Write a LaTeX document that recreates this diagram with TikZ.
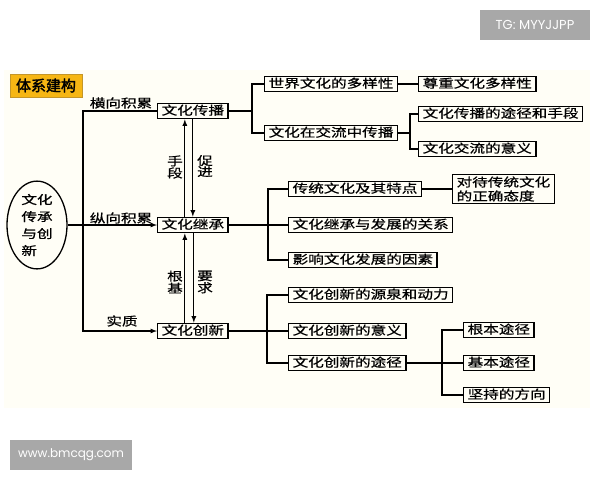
\documentclass[tikz,border=0pt]{standalone}
\usepackage{fontspec}
\newfontfamily\cjk{Noto Sans CJK SC}[FakeStretch=1.3,FakeBold=0.8]
\newfontfamily\cjktitle{Noto Sans CJK SC}[FakeBold=2]
\newfontfamily\wmfont{Poppins}
\usepackage{tikz}
\usetikzlibrary{arrows,calc,shapes.geometric}
\definecolor{cream}{RGB}{255,254,246}
\definecolor{wmgray}{RGB}{168,168,168}
\definecolor{titlegold}{RGB}{246,182,20}
\definecolor{titleedge}{RGB}{196,150,40}

\begin{document}
\begin{tikzpicture}[x=1pt,y=-1pt,
  box/.style={draw,line width=1.3pt,anchor=west,inner xsep=4pt,inner ysep=2pt,
    text height=9.5pt,text depth=2pt,font=\cjk\fontsize{12}{14}\selectfont},
  lbl/.style={inner sep=0pt,font=\cjk\fontsize{12}{14}\selectfont},
  vlbl/.style={inner sep=0pt,align=center,font=\cjk\fontsize{12}{11}\selectfont},
  wm/.style={fill=wmgray,text=white,inner sep=0pt,font=\wmfont\fontsize{12}{14}\selectfont},
  line width=1.2pt]
\fill[white] (0,0) rectangle (600,480);
\fill[cream] (4,70) rectangle (590,408);
\useasboundingbox (0,0) rectangle (600,480);

\node[wm,minimum width=110pt,minimum height=30pt,font=\wmfont\fontsize{13}{15}\selectfont] (tg) at (535,25) {TG: MYYJJPP};
\node[wm,minimum width=122pt,minimum height=30pt] (web) at (71,455) {www.bmcqg.com};
\node[fill=titlegold,draw=titleedge,line width=0.8pt,minimum width=72pt,minimum height=23pt,inner sep=0pt,
  font=\cjktitle\fontsize{15}{16}\selectfont] (title) at (46,85.5) {体系建构};

\node[draw,ellipse,line width=1.3pt,minimum width=60pt,minimum height=77pt,inner sep=0pt,align=left,
  font=\cjk\fontsize{12}{17}\selectfont] (root) at (37,225) {文化\\传承\\与创\\新};

\node[box] (cb) at (157,111) {文化传播};
\node[box] (jc) at (157,225) {文化继承};
\node[box] (cx) at (157,331) {文化创新};

\node[box] (n1) at (264,84) {世界文化的多样性};
\node[box] (n2) at (418,84) {尊重文化多样性};
\node[box] (n3) at (264,133) {文化在交流中传播};
\node[box] (n4) at (418,114) {文化传播的途径和手段};
\node[box] (n5) at (418,149) {文化交流的意义};

\node[box] (m1) at (288,189) {传统文化及其特点};
\node[box,align=left,text height=,text depth=,font=\cjk\fontsize{12}{14}\selectfont] (m2) at (452,189) {对待传统文化\\的正确态度};
\node[box] (m3) at (288,225) {文化继承与发展的关系};
\node[box] (m4) at (288,260) {影响文化发展的因素};

\node[box] (k1) at (288,295) {文化创新的源泉和动力};
\node[box] (k2) at (288,331) {文化创新的意义};
\node[box] (k3) at (288,363) {文化创新的途径};

\node[box] (p1) at (463,330) {根本途径};
\node[box] (p2) at (463,363) {基本途径};
\node[box] (p3) at (463,395) {坚持的方向};

\node[lbl] (hx) at (121,103) {横向积累};
\node[lbl] (zx) at (121,218) {纵向积累};
\node[lbl] (sz) at (122,321) {实质};
\node[vlbl] (sd) at (175,167) {手\\段};
\node[vlbl] (cj) at (205,166) {促\\进};
\node[vlbl] (gj) at (175,282) {根\\基};
\node[vlbl] (yq) at (205,282) {要\\求};

\coordinate (tr) at (83,0);
\coordinate (b1) at (252,111);
\coordinate (b2) at (410,133);
\coordinate (b3) at (268,225);
\coordinate (b4) at (267,331);
\coordinate (b5) at (442,363);

\draw[-latex] (root.east) -- (jc.west);
\draw[-latex] (cb.west) -- (cb.west -| tr) |- (cx.west);

\draw[-latex] ([xshift=-8pt]jc.north) -- ([xshift=-8pt]cb.south);
\draw[-latex] (cb.south) -- (jc.north);
\draw[-latex] ([xshift=-8pt]cx.north) -- ([xshift=-8pt]jc.south);
\draw[-latex] ([xshift=1pt]jc.south) -- ([xshift=1pt]cx.north);

\draw (cb.east) -- (b1);
\draw (n1.west) -| (b1) |- (n3.west);
\draw (n1.east) -- (n2.west);
\draw (n3.east) -- (b2);
\draw (n4.west) -| (b2) |- (n5.west);

\draw (jc.east) -- (m3.west);
\draw (m1.west) -| (b3) |- (m4.west);
\draw (m1.east) -- (m2.west);

\draw (cx.east) -- (k2.west);
\draw (k1.west) -| (b4) |- (k3.west);
\draw (k3.east) -- (p2.west);
\draw (p1.west) -| (b5) |- (p3.west);
\end{tikzpicture}
\end{document}
